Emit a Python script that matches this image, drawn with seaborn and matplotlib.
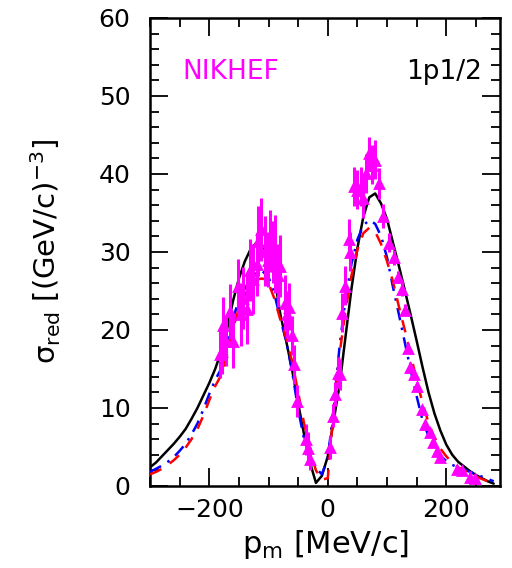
import matplotlib
matplotlib.use("Agg")
import matplotlib.pyplot as plt
import seaborn as sns
import pandas as pd
from matplotlib.ticker import MultipleLocator

# ---------------- data ----------------
curve_x = [-300, -290, -280, -270, -260, -250, -240, -230, -220, -210,
           -200, -190, -180, -170, -160, -150, -140, -130, -120, -110,
           -100, -90, -80, -70, -60, -50, -40, -30, -20, -10,
           0, 10, 20, 30, 40, 50, 60, 70, 80, 90,
           100, 110, 120, 130, 140, 150, 160, 170, 180, 190,
           200, 210, 220, 230, 240, 250, 260, 270, 280]

black_y = [2.4, 3.0, 3.8, 4.6, 5.4, 6.3, 7.3, 8.6, 10.0, 11.6,
           13.2, 15.0, 17.2, 20.1, 23.7, 26.6, 28.8, 30.4, 31.2, 30.8,
           29.3, 26.8, 22.0, 18.5, 14.8, 10.6, 6.6, 3.0, 0.4, 1.3,
           3.8, 8.4, 13.0, 19.2, 25.3, 30.5, 34.5, 37.0, 37.5, 36.2,
           34.2, 31.2, 28.2, 25.1, 21.9, 18.6, 15.2, 12.0, 9.3, 7.1,
           5.3, 4.0, 3.1, 2.5, 1.9, 1.4, 1.0, 0.6, 0.3]

blue_y = [1.8, 2.2, 2.6, 3.1, 3.7, 4.5, 5.4, 6.6, 8.0, 9.8,
          11.8, 13.6, 15.0, 18.0, 21.5, 23.8, 25.3, 26.6, 27.5, 27.5,
          26.8, 24.6, 21.4, 18.5, 14.6, 9.8, 6.0, 3.8, 2.3, 1.5,
          3.5, 10.0, 18.0, 24.0, 28.5, 31.6, 33.4, 34.1, 33.6, 32.0,
          29.3, 25.5, 22.0, 18.4, 14.8, 11.5, 8.4, 6.4, 5.0, 3.9,
          3.2, 2.7, 2.4, 2.1, 1.8, 1.5, 1.2, 0.9, 0.6]

red_y = [1.5, 1.8, 2.2, 2.7, 3.3, 4.0, 4.9, 6.0, 7.3, 9.0,
         11.0, 12.8, 14.2, 16.8, 20.2, 22.8, 24.5, 25.8, 26.5, 26.6,
         26.0, 24.0, 21.3, 18.9, 15.9, 12.0, 8.0, 4.5, 2.0, 0.8,
         1.0, 10.0, 17.0, 22.5, 27.0, 30.3, 32.4, 33.1, 32.6, 31.0,
         28.8, 26.2, 23.0, 20.0, 16.8, 13.6, 10.6, 8.1, 6.2, 4.8,
         3.8, 3.0, 2.4, 2.0, 1.6, 1.2, 0.9, 0.6, 0.4]

data_x = [-182, -179, -176, -171, -165, -160, -151, -146, -143, -137,
          -131, -126, -120, -117, -112, -106, -101, -97, -92, -89,
          -84, -80, -72, -69, -66, -61, -57, -52, -36, -33,
          -30, 4, 8, 12, 17, 20, 24, 29, 35, 37,
          44, 50, 56, 60, 65, 69, 74, 80, 86, 94,
          104, 111, 119, 125, 131, 136, 139, 145, 150, 159,
          164, 173, 178, 184, 190, 218, 226, 240, 249]
data_y = [16.9, 17.3, 20.7, 18.6, 22.4, 18.6, 25.6, 22.0, 24.1, 22.7,
          27.7, 26.5, 28.4, 31.4, 32.9, 30.1, 29.0, 31.4, 30.0, 29.7,
          27.0, 28.2, 23.5, 22.0, 23.0, 19.3, 15.6, 10.9, 6.0, 4.9,
          3.5, 5.0, 9.0, 11.8, 14.5, 14.3, 22.2, 25.7, 31.7, 30.0,
          38.4, 38.0, 38.4, 36.9, 40.1, 42.7, 41.2, 41.8, 38.8, 34.6,
          31.2, 29.3, 26.8, 25.2, 22.6, 17.7, 15.3, 14.3, 12.8, 9.9,
          7.9, 6.9, 5.6, 4.5, 3.7, 2.2, 2.0, 1.1, 1.0]
data_err = [3.0, 3.0, 3.5, 3.2, 3.5, 3.5, 3.5, 4.0, 4.0, 4.5,
            4.0, 4.5, 4.0, 4.5, 4.0, 4.5, 3.5, 4.0, 4.0, 5.0,
            4.0, 4.0, 3.5, 3.0, 3.0, 2.5, 2.5, 2.0, 2.0, 2.0,
            1.5, 1.5, 1.5, 1.5, 2.0, 2.0, 2.5, 2.5, 2.5, 2.5,
            2.5, 2.5, 2.5, 2.5, 2.5, 2.0, 2.5, 2.5, 2.0, 1.5,
            1.2, 1.0, 0.8, 0.8, 0.7, 0.6, 0.6, 0.5, 0.5, 0.4,
            0.4, 0.4, 0.3, 0.3, 0.3, 0.3, 0.4, 0.8, 0.5]

# ---------------- plot ----------------
sns.set_style("ticks")
plt.rcParams['font.family'] = ['DejaVu Sans']
plt.rcParams['text.color'] = 'black'
plt.rcParams['axes.labelcolor'] = 'black'

fig = plt.figure(figsize=(5.12, 5.68), dpi=100)
ax = fig.add_axes([0.293, 0.1444, 0.684, 0.8240])

curves = pd.DataFrame({"x": curve_x, "black": black_y, "blue": blue_y, "red": red_y})

sns.lineplot(data=curves, x="x", y="black", ax=ax, color="black", lw=1.8, zorder=3)
sns.lineplot(data=curves, x="x", y="blue", ax=ax, color="#0000ff", lw=1.8, zorder=3)
ax.lines[-1].set_dashes([5, 3, 1, 3])
sns.lineplot(data=curves, x="x", y="red", ax=ax, color="#ff0000", lw=1.8, zorder=3)
ax.lines[-1].set_dashes([5, 4])

ax.errorbar(data_x, data_y, yerr=data_err, fmt="none", ecolor="#ff00ff",
            elinewidth=2.2, capsize=0, zorder=4)
sns.scatterplot(x=data_x, y=data_y, ax=ax, marker="^", s=85, color="#ff00ff",
                edgecolor="#ff00ff", linewidth=0, zorder=5)

ax.set_xlim(-300, 291)
ax.set_ylim(0, 60)

ax.xaxis.set_minor_locator(MultipleLocator(50))
ax.yaxis.set_major_locator(MultipleLocator(10))
ax.yaxis.set_minor_locator(MultipleLocator(2))
ax.set_xticks([-200, 0, 200])
ax.set_xticklabels(["\u2212200", "0", "200"])

ax.tick_params(which="both", direction="in", top=True, right=True,
               width=1.3, colors="black")
ax.tick_params(which="major", length=13)
ax.tick_params(which="minor", length=6.5)
ax.tick_params(axis="y", which="major", labelsize=18, pad=14)
ax.tick_params(axis="x", which="major", labelsize=18, pad=9)

for sp in ax.spines.values():
    sp.set_linewidth(1.8)
    sp.set_color("black")
    sp.set_visible(True)

ax.set_xlabel(r"p$_{\rm m}$ [MeV/c]", fontsize=22, labelpad=4, color="black")
ax.set_ylabel("\u03c3$_{\\rm red}$ [(GeV/c)$^{-3}$]", fontsize=21, labelpad=26,
              color="black")

ax.text(-246, 53.1, "NIKHEF", color="#ff00ff", fontsize=19, va="center", ha="left")
ax.text(261, 53.1, "1p1/2", color="black", fontsize=19, va="center", ha="right")

fig.savefig("out.png", dpi=100)
